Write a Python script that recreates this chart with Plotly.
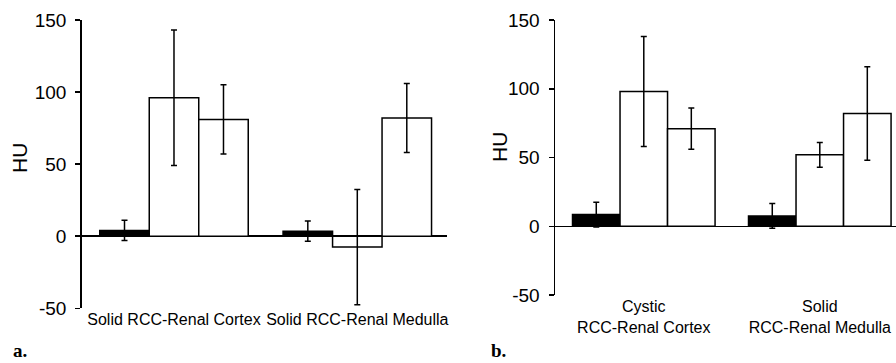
import plotly.graph_objects as go

# ---- data ----
cats_a = ["Solid RCC-Renal Cortex", "Solid RCC-Renal Medulla"]
cats_b = ["Cystic<br>RCC-Renal Cortex", "Solid<br>RCC-Renal Medulla"]

a_s1 = [4, 3.5]
a_s1_err = [7, 7]
a_s2 = [96, -7.5]
a_s2_err = [47, 40]
a_s3 = [81, 82]
a_s3_err = [24, 24]

b_s1 = [8.5, 7.5]
b_s1_err = [9, 9]
b_s2 = [98, 52]
b_s2_err = [40, 9]
b_s3 = [71, 82]
b_s3_err = [15, 34]

y_ticks = [-50, 0, 50, 100, 150]
y_tick_labels = ["-50", "0", "50", "100", "150"]

FONT = "Liberation Sans, Arial, Helvetica, sans-serif"
fig = go.Figure()

def add_series(x, y, err, fill, xa, ya):
    fig.add_trace(go.Bar(
        x=x, y=y, xaxis=xa, yaxis=ya,
        marker=dict(color=fill, line=dict(color="black", width=1.5)),
        error_y=dict(type="data", array=err, color="black", thickness=1.5, width=3),
        showlegend=False,
    ))

add_series(cats_a, a_s1, a_s1_err, "black", "x", "y")
add_series(cats_a, a_s2, a_s2_err, "white", "x", "y")
add_series(cats_a, a_s3, a_s3_err, "white", "x", "y")
add_series(cats_b, b_s1, b_s1_err, "black", "x2", "y2")
add_series(cats_b, b_s2, b_s2_err, "white", "x2", "y2")
add_series(cats_b, b_s3, b_s3_err, "white", "x2", "y2")

yax = dict(
    range=[-50, 150], tickvals=y_ticks, ticktext=y_tick_labels, showgrid=False,
    showline=True, linecolor="black", linewidth=1.5,
    ticks="outside", ticklen=5, tickwidth=1.5, tickcolor="black",
    zeroline=True, zerolinecolor="black", zerolinewidth=1.5,
    tickfont=dict(family=FONT, size=19, color="black"),
    ticklabelstandoff=5, automargin=False, fixedrange=True,
)
xax = dict(
    type="category", showgrid=False, showline=False, zeroline=False, ticks="",
    tickfont=dict(family=FONT, size=16, color="black"), automargin=False,
)

fig.update_layout(
    width=896, height=363,
    margin=dict(l=0, r=0, t=0, b=0),
    paper_bgcolor="white", plot_bgcolor="rgba(0,0,0,0)",
    barmode="group", bargap=0.19, bargroupgap=0,
    template="none",
    xaxis=dict(xax, domain=[81.7 / 896, 446.7 / 896], range=[-0.5035, 1.4877], anchor="y"),
    yaxis=dict(yax, domain=[(363 - 308.3) / 363, (363 - 20) / 363], anchor="x"),
    xaxis2=dict(xax, domain=[555 / 896, 1.0], range=[-0.5045, 1.433], anchor="y2"),
    yaxis2=dict(yax, domain=[(363 - 295) / 363, (363 - 20) / 363], anchor="x2"),
    annotations=[
        dict(text="HU", x=20 / 896, y=1 - 158 / 363, xref="paper", yref="paper",
             xanchor="center", yanchor="middle",
             textangle=-90, showarrow=False, font=dict(family=FONT, size=21, color="black")),
        dict(text="HU", x=499 / 896, y=1 - 147 / 363, xref="paper", yref="paper",
             xanchor="center", yanchor="middle",
             textangle=-90, showarrow=False, font=dict(family=FONT, size=21, color="black")),
        dict(text="<b>a.</b>", x=11 / 896, y=1 - 350 / 363, xref="paper", yref="paper",
             xanchor="left", yanchor="middle", showarrow=False,
             font=dict(family="Liberation Serif, Times New Roman, serif", size=19, color="black")),
        dict(text="<b>b.</b>", x=489 / 896, y=1 - 350 / 363, xref="paper", yref="paper",
             xanchor="left", yanchor="middle", showarrow=False,
             font=dict(family="Liberation Serif, Times New Roman, serif", size=19, color="black")),
    ],
)

fig.write_html("out.html",
               config={"displayModeBar": False, "staticPlot": True},
               post_script="document.body.style.margin='0';document.body.style.padding='0';document.body.style.overflow='hidden';")
